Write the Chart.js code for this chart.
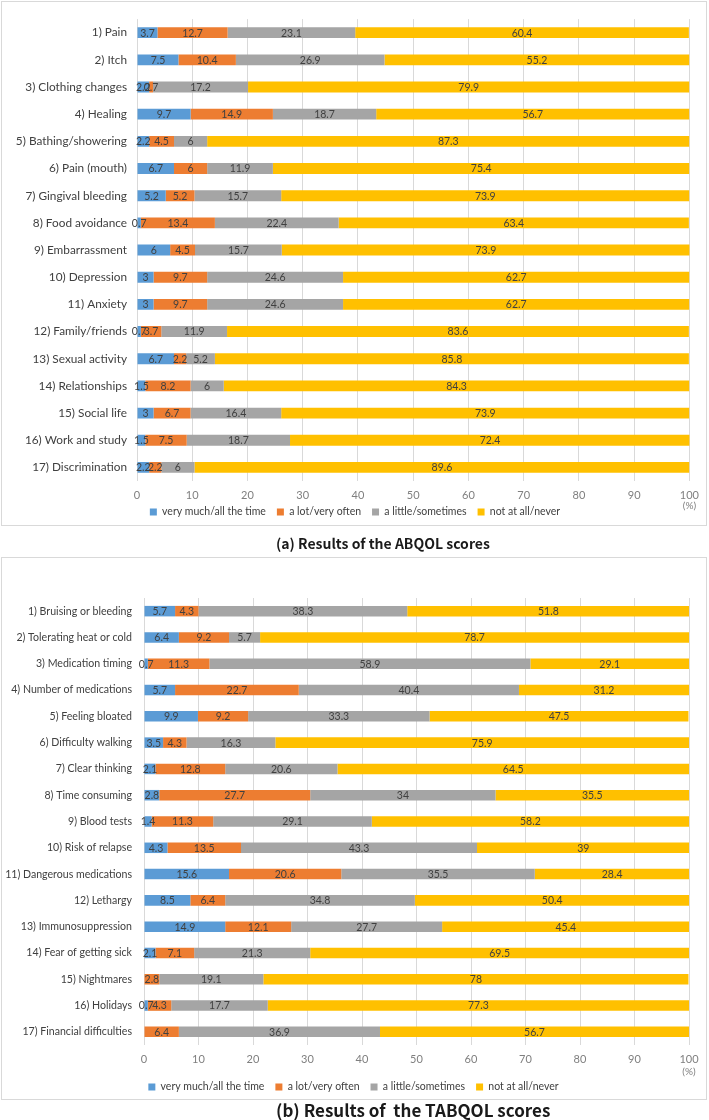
<!DOCTYPE html>
<html>
<head>
<meta charset="utf-8">
<script src="https://cdn.jsdelivr.net/npm/chart.js@4.4.1/dist/chart.umd.min.js"></script>
<style>
  body { margin: 0; background: #fff; width: 709px; height: 1120px; position: relative; overflow: hidden; }
  .panel { position: absolute; left: 1px; width: 704px; border: 1px solid #d9d9d9; }
  canvas { position: absolute; left: 0; display: block; }
  .caption { position: absolute; left: 276px; white-space: pre; color: #1a1a1a;
             font-family: "Noto Sans CJK JP", "Liberation Sans", sans-serif; font-weight: bold; }
</style>
</head>
<body>
<div class="panel" style="top:1px;height:523px"></div>
<canvas id="abqol" width="707" height="535" style="top:2px"></canvas>
<div class="caption" style="top:534px;font-size:14px;line-height:18px">(a) Results of the ABQOL scores</div>

<div class="panel" style="top:557px;height:541px"></div>
<canvas id="tabqol" width="707" height="545" style="top:559px"></canvas>
<div class="caption" style="top:1099px;font-size:17px;line-height:22px">(b) Results of  the TABQOL scores</div>

<script>
// response levels, same for both panels
const levels = ["very much/all the time", "a lot/very often", "a little/sometimes", "not at all/never"];
const levelColors = ["#5b9bd5", "#ed7d31", "#a5a5a5", "#ffc000"];
const xTicks = [0, 10, 20, 30, 40, 50, 60, 70, 80, 90, 100];

// (a) ABQOL
const abqolItems = [
  "1) Pain", "2) Itch", "3) Clothing changes", "4) Healing", "5) Bathing/showering",
  "6) Pain (mouth)", "7) Gingival bleeding", "8) Food avoidance", "9) Embarrassment",
  "10) Depression", "11) Anxiety", "12) Family/friends", "13) Sexual activity",
  "14) Relationships", "15) Social life", "16) Work and study", "17) Discrimination",
];
const abqolVeryMuch  = [3.7, 7.5, 2.2, 9.7, 2.2, 6.7, 5.2, 0.7, 6, 3, 3, 0.7, 6.7, 1.5, 3, 1.5, 2.2];
const abqolALot      = [12.7, 10.4, 0.7, 14.9, 4.5, 6, 5.2, 13.4, 4.5, 9.7, 9.7, 3.7, 2.2, 8.2, 6.7, 7.5, 2.2];
const abqolALittle   = [23.1, 26.9, 17.2, 18.7, 6, 11.9, 15.7, 22.4, 15.7, 24.6, 24.6, 11.9, 5.2, 6, 16.4, 18.7, 6];
const abqolNotAtAll  = [60.4, 55.2, 79.9, 56.7, 87.3, 75.4, 73.9, 63.4, 73.9, 62.7, 62.7, 83.6, 85.8, 84.3, 73.9, 72.4, 89.6];

// (b) TABQOL
const tabqolItems = [
  "1) Bruising or bleeding", "2) Tolerating heat or cold", "3) Medication timing",
  "4) Number of medications", "5) Feeling bloated", "6) Difficulty walking",
  "7) Clear thinking", "8) Time consuming", "9) Blood tests", "10) Risk of relapse",
  "11) Dangerous medications", "12) Lethargy", "13) Immunosuppression",
  "14) Fear of getting sick", "15) Nightmares", "16) Holidays", "17) Financial difficulties",
];
const tabqolVeryMuch = [5.7, 6.4, 0.7, 5.7, 9.9, 3.5, 2.1, 2.8, 1.4, 4.3, 15.6, 8.5, 14.9, 2.1, 0, 0.7, 0];
const tabqolALot     = [4.3, 9.2, 11.3, 22.7, 9.2, 4.3, 12.8, 27.7, 11.3, 13.5, 20.6, 6.4, 12.1, 7.1, 2.8, 4.3, 6.4];
const tabqolALittle  = [38.3, 5.7, 58.9, 40.4, 33.3, 16.3, 20.6, 34, 29.1, 43.3, 35.5, 34.8, 27.7, 21.3, 19.1, 17.7, 36.9];
const tabqolNotAtAll = [51.8, 78.7, 29.1, 31.2, 47.5, 75.9, 64.5, 35.5, 58.2, 39, 28.4, 50.4, 45.4, 69.5, 78, 77.3, 56.7];

const FONT = 'Lato, "Liberation Sans", sans-serif';
const LEGEND_SIZE = 10.5;
const LEGEND_PAD = 11;

// value written in the middle of each segment (zeros left out)
const segmentValues = {
  id: "segmentValues",
  afterDatasetsDraw(chart) {
    const ctx = chart.ctx;
    ctx.save();
    ctx.font = "10.5px " + FONT;
    ctx.fillStyle = "#404040";
    ctx.textAlign = "center";
    ctx.textBaseline = "middle";
    chart.data.datasets.forEach((ds, i) => {
      chart.getDatasetMeta(i).data.forEach((bar, j) => {
        const v = ds.data[j];
        if (!v) return;
        const p = bar.getCenterPoint();
        ctx.fillText(String(v), p.x, p.y + 0.5);
      });
    });
    ctx.restore();
  },
};

// "(%)" under the last tick
const percentUnit = {
  id: "percentUnit",
  afterDraw(chart, args, opts) {
    const ctx = chart.ctx;
    const x = chart.scales.x;
    ctx.save();
    ctx.font = "10px " + FONT;
    ctx.fillStyle = "#7f7f7f";
    ctx.textAlign = "center";
    ctx.textBaseline = "middle";
    ctx.fillText("(%)", x.getPixelForValue(100), chart.chartArea.bottom + opts.offset);
    ctx.restore();
  },
};

// pull the legend row up to sit right under the tick labels
const legendPlacement = {
  id: "legendPlacement",
  afterLayout(chart, args, opts) {
    const lg = chart.legend;
    const top = chart.chartArea.bottom + opts.center - LEGEND_PAD - LEGEND_SIZE / 2;
    const h = lg.height;
    lg.top = top;
    lg.bottom = top + h;
    lg.left += opts.dx;
    lg.right += opts.dx;
  },
};

function stackedChart(id, items, series, g) {
  return new Chart(document.getElementById(id), {
    type: "bar",
    data: {
      labels: items,
      datasets: series.map((data, i) => ({
        label: levels[i],
        data,
        backgroundColor: levelColors[i],
        barPercentage: 0.4,
        categoryPercentage: 1,
      })),
    },
    options: {
      indexAxis: "y",
      responsive: false,
      animation: false,
      layout: { padding: { left: 0, right: g.right, top: g.top, bottom: g.bottom } },
      scales: {
        x: {
          stacked: true, min: 0, max: 100,
          afterBuildTicks: (s) => { s.ticks = xTicks.map((v) => ({ value: v })); },
          afterFit: (s) => { s.height = 22; },
          ticks: { color: "#7f7f7f", font: { family: FONT, size: 11 }, padding: 8, maxRotation: 0 },
          grid: { color: "#d9d9d9", drawTicks: false },
          border: { display: false },
        },
        y: {
          stacked: true,
          afterFit: (s) => { s.width = g.yWidth; },
          ticks: { color: "#404040", font: { family: FONT, size: g.labelSize }, padding: g.labelPad, autoSkip: false },
          grid: { display: false, drawTicks: false },
          border: { display: false },
        },
      },
      plugins: {
        legend: {
          position: "bottom",
          labels: { boxWidth: 7, boxHeight: 7, padding: LEGEND_PAD, color: "#404040", font: { family: FONT, size: LEGEND_SIZE } },
        },
        tooltip: { enabled: false },
        percentUnit: { offset: g.unitOffset },
        legendPlacement: { center: g.legendCenter, dx: 9 },
      },
    },
    plugins: [segmentValues, percentUnit, legendPlacement],
  });
}

// plot area: page x 137..692, y 10..481
stackedChart("abqol", abqolItems, [abqolVeryMuch, abqolALot, abqolALittle, abqolNotAtAll],
  { top: 8, right: 15, bottom: 2.5, yWidth: 137, labelPad: 10, labelSize: 11.8, unitOffset: 25, legendCenter: 31 });

// plot area: page x 144..689, y 598..1045
stackedChart("tabqol", tabqolItems, [tabqolVeryMuch, tabqolALot, tabqolALittle, tabqolNotAtAll],
  { top: 39, right: 18, bottom: 5.5, yWidth: 144, labelPad: 12, labelSize: 10.6, unitOffset: 27, legendCenter: 42 });
</script>
</body>
</html>
